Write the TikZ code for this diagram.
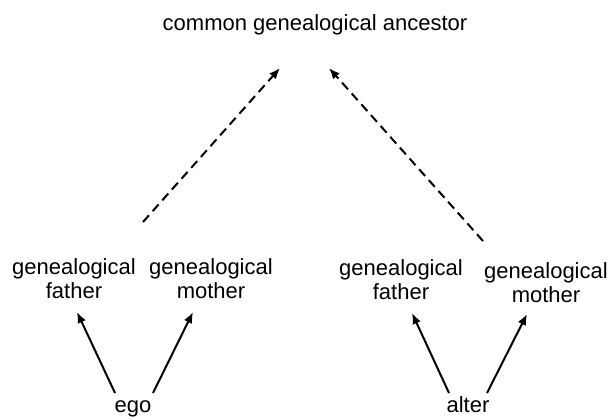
\documentclass[tikz,border=0pt]{standalone}
\usepackage{fontspec}
\setmainfont{Liberation Sans}
\usepackage{tikz}
\usetikzlibrary{arrows.meta, calc}
\tikzstyle{every node}=[font=\fontsize{22}{24}\selectfont, inner sep=0pt]
\tikzstyle{person} = [align=center, anchor=base]
\tikzstyle{line} = [draw, line width=2pt, -{Latex[length=11pt, width=9pt]}]
\tikzstyle{descent} = [line, dash pattern=on 9pt off 5.5pt]

\begin{document}
\begin{tikzpicture}[x=1pt, y=-1pt]
    \useasboundingbox (0,0) rectangle (608,419);
    % Place nodes
    \node [person] (ancestor) at (315,31) {common genealogical ancestor};
    \node [person] (lfather) at (74,299) {genealogical\\father};
    \node [person] (lmother) at (211,299) {genealogical\\mother};
    \node [person] (rfather) at (401,300) {genealogical\\father};
    \node [person] (rmother) at (546,303) {genealogical\\mother};
    \node [person] (ego) at (133,413) {ego};
    \node [person] (alter) at (468,413) {alter};
    % Draw edges
    \path [line] ([shift={(-18,-20)}]ego.base) -- ([shift={(3,13)}]lfather.base);
    \path [line] ([shift={(20,-20)}]ego.base) -- ([shift={(-18,13)}]lmother.base);
    \path [line] ([shift={(-19,-20)}]alter.base) -- ([shift={(11,13)}]rfather.base);
    \path [line] ([shift={(19,-20)}]alter.base) -- ([shift={(-19,11)}]rmother.base);
    \path [descent] ($(lfather.base)!0.5!(lmother.base)+(0.5,-77)$) -- ([shift={(-35,37)}]ancestor.base);
    \path [descent] ($(rfather.base)!0.5!(rmother.base)+(9.5,-60.5)$) -- ([shift={(14,37)}]ancestor.base);
\end{tikzpicture}
\end{document}
